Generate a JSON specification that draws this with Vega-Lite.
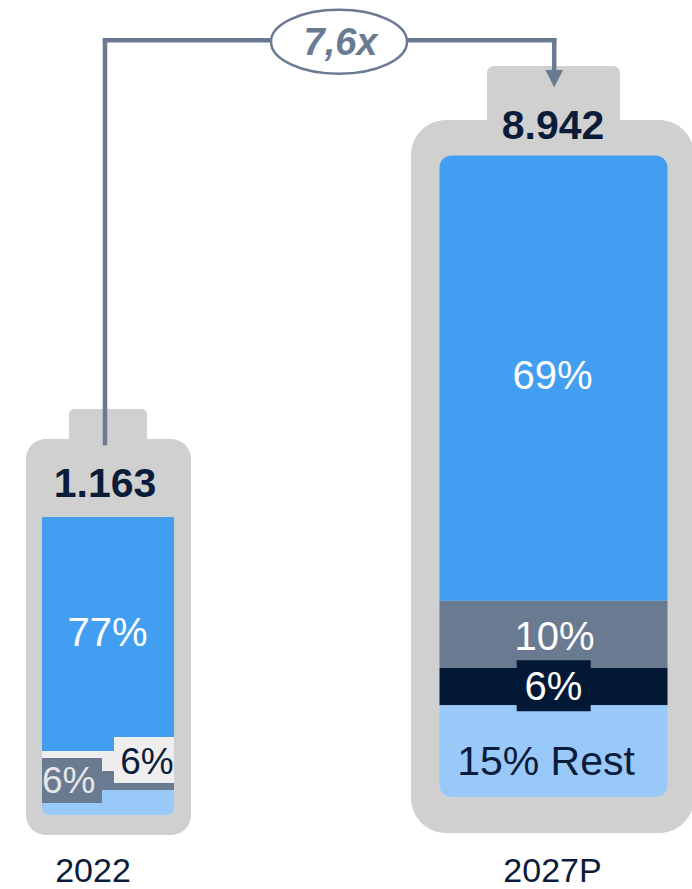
{
  "$schema": "https://vega.github.io/schema/vega-lite/v6.json",
  "width": 692,
  "height": 889,
  "autosize": {"type": "none"},
  "padding": 0,
  "background": "white",
  "config": {
    "view": {"stroke": null},
    "locale": {"number": {"decimal": ",", "thousands": ".", "grouping": [3], "currency": ["", " €"]}},
    "text": {"font": "Liberation Sans"}
  },
  "datasets": {
    "segments": [
      {"year": "2022", "segment": "Segment 1", "share": 78.5, "label": "77%", "rank": 4},
      {"year": "2022", "segment": "Segment 3", "share": 6.7, "label": "6%", "rank": 3},
      {"year": "2022", "segment": "Segment 2", "share": 6.4, "label": "6%", "rank": 2},
      {"year": "2022", "segment": "Rest", "share": 8.4, "label": "", "rank": 1},
      {"year": "2027P", "segment": "Segment 1", "share": 69.4, "label": "69%", "rank": 4},
      {"year": "2027P", "segment": "Segment 2", "share": 10.5, "label": "10%", "rank": 3},
      {"year": "2027P", "segment": "Segment 3", "share": 5.8, "label": "6%", "rank": 2},
      {"year": "2027P", "segment": "Rest", "share": 14.3, "label": "15% Rest", "rank": 1}
    ],
    "totals": [
      {"year": "2022", "total": 1163},
      {"year": "2027P", "total": 8942}
    ],
    "growth": [
      {"from": "2022", "to": "2027P", "multiple": 7.6, "label": "7,6x"}
    ]
  },
  "data": {"values": [{}]},
  "layer": [
    {
      "layer": [
        {
          "mark": {"type": "rect", "color": "#D0D0D0", "cornerRadius": 5},
          "encoding": {
            "x": {"datum": 69, "type": "quantitative", "scale": {"domain": [0, 692], "nice": false, "zero": false}, "axis": null},
            "x2": {"datum": 147},
            "y": {"datum": 409, "type": "quantitative", "scale": {"domain": [0, 889], "reverse": true, "nice": false, "zero": false}, "axis": null},
            "y2": {"datum": 445}
          }
        },
        {
          "mark": {"type": "rect", "color": "#D0D0D0", "cornerRadius": 20},
          "encoding": {
            "x": {"datum": 26, "type": "quantitative", "scale": {"domain": [0, 692], "nice": false, "zero": false}, "axis": null},
            "x2": {"datum": 191},
            "y": {"datum": 439, "type": "quantitative", "scale": {"domain": [0, 889], "reverse": true, "nice": false, "zero": false}, "axis": null},
            "y2": {"datum": 835}
          }
        },
        {
          "mark": {"type": "rect", "color": "#D0D0D0", "cornerRadius": 7},
          "encoding": {
            "x": {"datum": 487, "type": "quantitative", "scale": {"domain": [0, 692], "nice": false, "zero": false}, "axis": null},
            "x2": {"datum": 620},
            "y": {"datum": 66, "type": "quantitative", "scale": {"domain": [0, 889], "reverse": true, "nice": false, "zero": false}, "axis": null},
            "y2": {"datum": 125}
          }
        },
        {
          "mark": {"type": "rect", "color": "#D0D0D0", "cornerRadius": 35},
          "encoding": {
            "x": {"datum": 411, "type": "quantitative", "scale": {"domain": [0, 692], "nice": false, "zero": false}, "axis": null},
            "x2": {"datum": 694},
            "y": {"datum": 120, "type": "quantitative", "scale": {"domain": [0, 889], "reverse": true, "nice": false, "zero": false}, "axis": null},
            "y2": {"datum": 833}
          }
        }
      ]
    },
    {
      "data": {"name": "segments"},
      "transform": [
        {"filter": "datum.year === '2022'"},
        {"stack": "share", "groupby": ["year"], "sort": [{"field": "rank", "order": "ascending"}], "as": ["s0", "s1"]},
        {"calculate": "(datum.s0 + datum.s1) / 2", "as": "mid"}
      ],
      "layer": [
        {
          "transform": [{"filter": "datum.segment !== 'Rest'"}],
          "mark": {"type": "rect"},
          "encoding": {
            "x": {"datum": 42, "type": "quantitative", "scale": {"domain": [0, 692], "nice": false, "zero": false}, "axis": null},
            "x2": {"datum": 174},
            "y": {"field": "s0", "type": "quantitative", "scale": {"domain": [-24.8322, 273.4899], "nice": false, "zero": false}, "axis": null},
            "y2": {"field": "s1"},
            "color": {"field": "segment", "type": "nominal", "scale": {"domain": ["Segment 1", "Segment 2", "Segment 3", "Rest"], "range": ["#429EF1", "#6A7A91", "#EEEEEE", "#99C9F8"]}, "legend": null}
          }
        },
        {
          "transform": [{"filter": "datum.segment === 'Rest'"}],
          "mark": {"type": "rect", "cornerRadiusBottomLeft": 8, "cornerRadiusBottomRight": 8},
          "encoding": {
            "x": {"datum": 42, "type": "quantitative", "scale": {"domain": [0, 692], "nice": false, "zero": false}, "axis": null},
            "x2": {"datum": 174},
            "y": {"field": "s0", "type": "quantitative", "scale": {"domain": [-24.8322, 273.4899], "nice": false, "zero": false}, "axis": null},
            "y2": {"field": "s1"},
            "color": {"field": "segment", "type": "nominal", "scale": {"domain": ["Segment 1", "Segment 2", "Segment 3", "Rest"], "range": ["#429EF1", "#6A7A91", "#EEEEEE", "#99C9F8"]}, "legend": null}
          }
        },
        {
          "transform": [{"filter": "datum.segment === 'Segment 3'"}],
          "mark": {"type": "point", "shape": "M -1 -0.767 L 1 -0.767 L 1 0.767 L -1 0.767 Z", "filled": true, "size": 3600, "color": "#EEEEEE", "opacity": 1, "strokeWidth": 0, "yOffset": -1},
          "encoding": {
            "x": {"datum": 144, "type": "quantitative", "scale": {"domain": [0, 692], "nice": false, "zero": false}, "axis": null},
            "y": {"field": "mid", "type": "quantitative", "scale": {"domain": [-24.8322, 273.4899], "nice": false, "zero": false}, "axis": null}
          }
        },
        {
          "transform": [{"filter": "datum.segment === 'Segment 2'"}],
          "mark": {"type": "point", "shape": "M -1 -0.75 L 1 -0.75 L 1 0.75 L -1 0.75 Z", "filled": true, "size": 3600, "color": "#6A7A91", "opacity": 1, "strokeWidth": 0},
          "encoding": {
            "x": {"datum": 72, "type": "quantitative", "scale": {"domain": [0, 692], "nice": false, "zero": false}, "axis": null},
            "y": {"field": "mid", "type": "quantitative", "scale": {"domain": [-24.8322, 273.4899], "nice": false, "zero": false}, "axis": null}
          }
        },
        {
          "transform": [{"filter": "datum.segment === 'Segment 1'"}],
          "mark": {"type": "text", "fontSize": 40, "color": "#FFFFFF", "align": "center", "baseline": "middle", "dy": 0},
          "encoding": {
            "x": {"datum": 107.5, "type": "quantitative", "scale": {"domain": [0, 692], "nice": false, "zero": false}, "axis": null},
            "y": {"field": "mid", "type": "quantitative", "scale": {"domain": [-24.8322, 273.4899], "nice": false, "zero": false}, "axis": null},
            "text": {"field": "label"}
          }
        },
        {
          "transform": [{"filter": "datum.segment === 'Segment 3'"}],
          "mark": {"type": "text", "fontSize": 37, "color": "#0B1C3B", "align": "center", "baseline": "middle", "dy": 2.5},
          "encoding": {
            "x": {"datum": 147, "type": "quantitative", "scale": {"domain": [0, 692], "nice": false, "zero": false}, "axis": null},
            "y": {"field": "mid", "type": "quantitative", "scale": {"domain": [-24.8322, 273.4899], "nice": false, "zero": false}, "axis": null},
            "text": {"field": "label"}
          }
        },
        {
          "transform": [{"filter": "datum.segment === 'Segment 2'"}],
          "mark": {"type": "text", "fontSize": 37, "color": "#E6E6E6", "align": "center", "baseline": "middle", "dy": 1.5},
          "encoding": {
            "x": {"datum": 68.7, "type": "quantitative", "scale": {"domain": [0, 692], "nice": false, "zero": false}, "axis": null},
            "y": {"field": "mid", "type": "quantitative", "scale": {"domain": [-24.8322, 273.4899], "nice": false, "zero": false}, "axis": null},
            "text": {"field": "label"}
          }
        }
      ]
    },
    {
      "data": {"name": "segments"},
      "transform": [
        {"filter": "datum.year === '2027P'"},
        {"stack": "share", "groupby": ["year"], "sort": [{"field": "rank", "order": "ascending"}], "as": ["s0", "s1"]},
        {"calculate": "(datum.s0 + datum.s1) / 2", "as": "mid"}
      ],
      "layer": [
        {
          "transform": [{"filter": "datum.segment === 'Segment 2' || datum.segment === 'Segment 3'"}],
          "mark": {"type": "rect"},
          "encoding": {
            "x": {"datum": 439.5, "type": "quantitative", "scale": {"domain": [0, 692], "nice": false, "zero": false}, "axis": null},
            "x2": {"datum": 667.5},
            "y": {"field": "s0", "type": "quantitative", "scale": {"domain": [-14.3414, 124.2401], "nice": false, "zero": false}, "axis": null},
            "y2": {"field": "s1"},
            "color": {"field": "segment", "type": "nominal", "scale": {"domain": ["Segment 1", "Segment 2", "Segment 3", "Rest"], "range": ["#429EF1", "#6A7A91", "#021834", "#99C9F8"]}, "legend": null}
          }
        },
        {
          "transform": [{"filter": "datum.segment === 'Segment 1'"}],
          "mark": {"type": "rect", "cornerRadiusTopLeft": 12, "cornerRadiusTopRight": 12},
          "encoding": {
            "x": {"datum": 439.5, "type": "quantitative", "scale": {"domain": [0, 692], "nice": false, "zero": false}, "axis": null},
            "x2": {"datum": 667.5},
            "y": {"field": "s0", "type": "quantitative", "scale": {"domain": [-14.3414, 124.2401], "nice": false, "zero": false}, "axis": null},
            "y2": {"field": "s1"},
            "color": {"field": "segment", "type": "nominal", "scale": {"domain": ["Segment 1", "Segment 2", "Segment 3", "Rest"], "range": ["#429EF1", "#6A7A91", "#021834", "#99C9F8"]}, "legend": null}
          }
        },
        {
          "transform": [{"filter": "datum.segment === 'Rest'"}],
          "mark": {"type": "rect", "cornerRadiusBottomLeft": 12, "cornerRadiusBottomRight": 12},
          "encoding": {
            "x": {"datum": 439.5, "type": "quantitative", "scale": {"domain": [0, 692], "nice": false, "zero": false}, "axis": null},
            "x2": {"datum": 667.5},
            "y": {"field": "s0", "type": "quantitative", "scale": {"domain": [-14.3414, 124.2401], "nice": false, "zero": false}, "axis": null},
            "y2": {"field": "s1"},
            "color": {"field": "segment", "type": "nominal", "scale": {"domain": ["Segment 1", "Segment 2", "Segment 3", "Rest"], "range": ["#429EF1", "#6A7A91", "#021834", "#99C9F8"]}, "legend": null}
          }
        },
        {
          "transform": [{"filter": "datum.segment === 'Segment 3'"}],
          "mark": {"type": "point", "shape": "M -1 -0.689 L 1 -0.689 L 1 0.689 L -1 0.689 Z", "filled": true, "size": 5476, "color": "#021834", "opacity": 1, "strokeWidth": 0, "yOffset": -1},
          "encoding": {
            "x": {"datum": 553.7, "type": "quantitative", "scale": {"domain": [0, 692], "nice": false, "zero": false}, "axis": null},
            "y": {"field": "mid", "type": "quantitative", "scale": {"domain": [-14.3414, 124.2401], "nice": false, "zero": false}, "axis": null}
          }
        },
        {
          "transform": [{"filter": "datum.segment === 'Segment 1'"}],
          "mark": {"type": "text", "fontSize": 40, "color": "#FFFFFF", "align": "center", "baseline": "middle", "dy": -1.5},
          "encoding": {
            "x": {"datum": 552.5, "type": "quantitative", "scale": {"domain": [0, 692], "nice": false, "zero": false}, "axis": null},
            "y": {"field": "mid", "type": "quantitative", "scale": {"domain": [-14.3414, 124.2401], "nice": false, "zero": false}, "axis": null},
            "text": {"field": "label"}
          }
        },
        {
          "transform": [{"filter": "datum.segment === 'Segment 2'"}],
          "mark": {"type": "text", "fontSize": 40, "color": "#FFFFFF", "align": "center", "baseline": "middle", "dy": 4},
          "encoding": {
            "x": {"datum": 554.5, "type": "quantitative", "scale": {"domain": [0, 692], "nice": false, "zero": false}, "axis": null},
            "y": {"field": "mid", "type": "quantitative", "scale": {"domain": [-14.3414, 124.2401], "nice": false, "zero": false}, "axis": null},
            "text": {"field": "label"}
          }
        },
        {
          "transform": [{"filter": "datum.segment === 'Segment 3'"}],
          "mark": {"type": "text", "fontSize": 40, "color": "#FFFFFF", "align": "center", "baseline": "middle", "dy": 1.5},
          "encoding": {
            "x": {"datum": 553.3, "type": "quantitative", "scale": {"domain": [0, 692], "nice": false, "zero": false}, "axis": null},
            "y": {"field": "mid", "type": "quantitative", "scale": {"domain": [-14.3414, 124.2401], "nice": false, "zero": false}, "axis": null},
            "text": {"field": "label"}
          }
        },
        {
          "transform": [{"filter": "datum.segment === 'Rest'"}],
          "mark": {"type": "text", "fontSize": 41, "color": "#0B1C3B", "align": "center", "baseline": "middle", "dy": 11.5},
          "encoding": {
            "x": {"datum": 546, "type": "quantitative", "scale": {"domain": [0, 692], "nice": false, "zero": false}, "axis": null},
            "y": {"field": "mid", "type": "quantitative", "scale": {"domain": [-14.3414, 124.2401], "nice": false, "zero": false}, "axis": null},
            "text": {"field": "label"}
          }
        }
      ]
    },
    {
      "layer": [
        {
          "mark": {"type": "rule", "color": "#6A7A91", "strokeWidth": 4.5, "strokeCap": "square"},
          "encoding": {
            "x": {"datum": 105, "type": "quantitative", "scale": {"domain": [0, 692], "nice": false, "zero": false}, "axis": null},
            "y": {"datum": 40.2, "type": "quantitative", "scale": {"domain": [0, 889], "reverse": true, "nice": false, "zero": false}, "axis": null},
            "y2": {"datum": 443}
          }
        },
        {
          "mark": {"type": "rule", "color": "#6A7A91", "strokeWidth": 4.5, "strokeCap": "square"},
          "encoding": {
            "x": {"datum": 105, "type": "quantitative", "scale": {"domain": [0, 692], "nice": false, "zero": false}, "axis": null},
            "x2": {"datum": 554.2},
            "y": {"datum": 40.2, "type": "quantitative", "scale": {"domain": [0, 889], "reverse": true, "nice": false, "zero": false}, "axis": null}
          }
        },
        {
          "mark": {"type": "rule", "color": "#6A7A91", "strokeWidth": 4.5, "strokeCap": "butt"},
          "encoding": {
            "x": {"datum": 554.2, "type": "quantitative", "scale": {"domain": [0, 692], "nice": false, "zero": false}, "axis": null},
            "y": {"datum": 38, "type": "quantitative", "scale": {"domain": [0, 889], "reverse": true, "nice": false, "zero": false}, "axis": null},
            "y2": {"datum": 73}
          }
        },
        {
          "mark": {"type": "point", "shape": "M -1 -1 L 1 -1 L 0 1 Z", "filled": true, "size": 310, "color": "#6A7A91", "opacity": 1, "strokeWidth": 0},
          "encoding": {
            "x": {"datum": 554.2, "type": "quantitative", "scale": {"domain": [0, 692], "nice": false, "zero": false}, "axis": null},
            "y": {"datum": 78.8, "type": "quantitative", "scale": {"domain": [0, 889], "reverse": true, "nice": false, "zero": false}, "axis": null}
          }
        },
        {
          "data": {"name": "growth"},
          "layer": [
            {
              "mark": {"type": "point", "shape": "M -1 0 C -1 -0.26 -0.5523 -0.47 0 -0.47 C 0.5523 -0.47 1 -0.26 1 0 C 1 0.26 0.5523 0.47 0 0.47 C -0.5523 0.47 -1 0.26 -1 0 Z", "filled": false, "fill": "#FFFFFF", "fillOpacity": 1, "size": 18496, "stroke": "#6A7A91", "strokeWidth": 2.5, "opacity": 1},
              "encoding": {
                "x": {"datum": 339, "type": "quantitative", "scale": {"domain": [0, 692], "nice": false, "zero": false}, "axis": null},
                "y": {"datum": 41.7, "type": "quantitative", "scale": {"domain": [0, 889], "reverse": true, "nice": false, "zero": false}, "axis": null}
              }
            },
            {
              "mark": {"type": "text", "fontSize": 38, "fontWeight": "bold", "fontStyle": "italic", "color": "#6A7A91", "align": "center", "baseline": "alphabetic"},
              "encoding": {
                "x": {"datum": 340.5, "type": "quantitative", "scale": {"domain": [0, 692], "nice": false, "zero": false}, "axis": null},
                "y": {"datum": 54.5, "type": "quantitative", "scale": {"domain": [0, 889], "reverse": true, "nice": false, "zero": false}, "axis": null},
                "text": {"field": "label"}
              }
            }
          ]
        },
        {
          "data": {"name": "totals"},
          "layer": [
            {
              "transform": [{"filter": "datum.year === '2022'"}],
              "layer": [
                {
                  "mark": {"type": "text", "fontSize": 41, "fontWeight": "bold", "color": "#0B1C3B", "align": "center", "baseline": "alphabetic"},
                  "encoding": {
                    "x": {"datum": 105, "type": "quantitative", "scale": {"domain": [0, 692], "nice": false, "zero": false}, "axis": null},
                    "y": {"datum": 497, "type": "quantitative", "scale": {"domain": [0, 889], "reverse": true, "nice": false, "zero": false}, "axis": null},
                    "text": {"field": "total", "type": "quantitative", "format": ",d"}
                  }
                },
                {
                  "mark": {"type": "text", "fontSize": 34, "color": "#0B1C3B", "align": "center", "baseline": "alphabetic"},
                  "encoding": {
                    "x": {"datum": 93, "type": "quantitative", "scale": {"domain": [0, 692], "nice": false, "zero": false}, "axis": null},
                    "y": {"datum": 881.5, "type": "quantitative", "scale": {"domain": [0, 889], "reverse": true, "nice": false, "zero": false}, "axis": null},
                    "text": {"field": "year"}
                  }
                }
              ]
            },
            {
              "transform": [{"filter": "datum.year === '2027P'"}],
              "layer": [
                {
                  "mark": {"type": "text", "fontSize": 41, "fontWeight": "bold", "color": "#0B1C3B", "align": "center", "baseline": "alphabetic"},
                  "encoding": {
                    "x": {"datum": 553, "type": "quantitative", "scale": {"domain": [0, 692], "nice": false, "zero": false}, "axis": null},
                    "y": {"datum": 139, "type": "quantitative", "scale": {"domain": [0, 889], "reverse": true, "nice": false, "zero": false}, "axis": null},
                    "text": {"field": "total", "type": "quantitative", "format": ",d"}
                  }
                },
                {
                  "mark": {"type": "text", "fontSize": 34, "color": "#0B1C3B", "align": "center", "baseline": "alphabetic"},
                  "encoding": {
                    "x": {"datum": 552.5, "type": "quantitative", "scale": {"domain": [0, 692], "nice": false, "zero": false}, "axis": null},
                    "y": {"datum": 881.5, "type": "quantitative", "scale": {"domain": [0, 889], "reverse": true, "nice": false, "zero": false}, "axis": null},
                    "text": {"field": "year"}
                  }
                }
              ]
            }
          ]
        }
      ]
    }
  ],
  "resolve": {"scale": {"y": "independent", "color": "independent"}}
}
